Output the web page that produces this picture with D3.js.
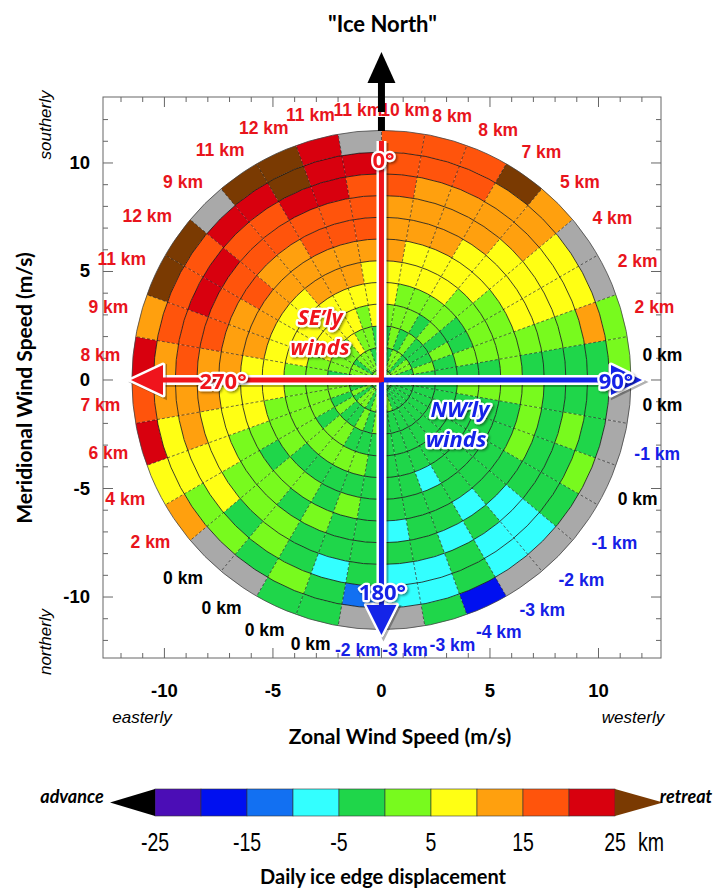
<!DOCTYPE html>
<html><head><meta charset="utf-8">
<script src="https://cdn.jsdelivr.net/npm/d3@7"></script>
<style>body{margin:0;background:#fff}</style>
</head><body>
<svg id="c" width="717" height="889"></svg>
<script>
// ---------------- DATA ----------------
// sector start angles (degrees clockwise from "Ice North"), 10° wide
const sectorAngles = [0,10,20,30,40,50,60,70,80,90,100,110,120,130,140,150,160,170,
                      180,190,200,210,220,230,240,250,260,270,280,290,300,310,320,330,340,350];
// wind-speed ring edges (m/s)
const ringEdges = [0,0.5,1.5,2.5,3.5,4.5,5.5,6.5,7.5,8.5,9.5,10.5,11.5];
// daily ice-edge displacement (km) per cell, rings inner -> outer; null = no data
const neCells = [
  [2,2,-2,2,7,7,12,12,12,17,17,17],
  [2,-2,2,2,2,7,7,12,12,12,17,17],
  [2,2,-2,2,2,7,7,12,12,12,17,17],
  [-2,2,2,-2,2,7,7,7,12,12,12,27],
  [2,-2,-2,2,2,2,7,7,7,12,12,12],
  [2,2,-2,-2,-2,2,2,7,7,7,7,null],
  [-2,2,-2,2,-2,2,2,7,7,7,7,null],
  [2,-2,2,-2,2,2,2,2,2,2,12,2],
  [-2,2,-2,-2,-2,-2,2,-2,-2,-2,-2,2]
];
const seCells = [
  [-2,2,-2,-2,2,2,2,2,-2,-2,-2,null],
  [2,-2,-2,-2,-2,-2,-2,2,-2,2,-2,null],
  [2,-2,-2,-2,-2,-2,-2,2,-2,-2,2,null],
  [-2,-2,-2,-2,-2,-2,-2,-2,-2,-2,-2,null],
  [-2,-2,-2,-2,-2,-2,-2,-2,-7,-7,-7,null],
  [-2,-2,-2,-2,-2,-2,-2,-7,-2,-7,-7,null],
  [-2,-2,-2,-2,-2,-7,-2,-2,-7,-2,-2,-17],
  [-2,2,-2,-2,-2,-2,-2,-2,-2,-7,-7,-2],
  [2,-2,-2,-2,-2,-2,-2,-7,-2,-7,-7,null]
];
const swCells = [
  [2,-2,2,-2,-2,-2,-2,-2,-2,-2,-12,null],
  [-2,2,-2,-2,2,-2,2,-2,-2,-7,-2,-2],
  [2,-2,2,-2,2,-2,-2,2,-2,-2,2,-2],
  [2,2,-2,2,2,-2,2,-2,2,2,-2,null],
  [-2,2,-2,2,2,-2,2,2,2,-2,2,null],
  [2,-2,2,-2,2,2,-2,2,2,7,2,12],
  [2,2,-2,2,2,2,2,2,7,7,7,7],
  [2,-2,2,2,2,2,7,7,7,12,7,22],
  [2,2,2,2,2,7,7,7,12,12,12,17]
];
const nwCells = [
  [2,2,-2,2,2,7,7,12,12,17,12,22],
  [2,2,2,2,7,7,12,12,17,17,17,12],
  [2,2,2,7,7,7,12,12,17,22,17,27],
  [2,-2,2,7,7,7,12,17,17,22,17,27],
  [2,2,2,7,7,7,12,12,17,17,22,null],
  [2,2,7,7,7,12,12,12,17,17,22,27],
  [2,2,2,7,7,12,12,17,17,22,27,27],
  [2,-2,2,2,7,12,12,17,17,22,22,22],
  [2,2,-2,7,7,7,12,17,17,17,22,null]
];
// mean displacement label per sector (km)
const sectorLabels = [10,8,8,7,5,4,2,2,0,0,-1,0,-1,-2,-3,-4,-3,-3,
                      -2,0,0,0,0,2,4,6,7,8,9,11,12,9,11,12,11,11];
const axisTicks = [-10,-5,0,5,10];
const cbThresholds = [-25,-20,-15,-10,-5,0,5,10,15,20,25];
const cbColors = ["#000000","#4b0db6","#0010f0","#1270f2","#33ffff","#1fd64a","#78fa1e","#ffff14","#ffa00e","#ff540c","#d8000e","#7a3a02"];
const cbTickLabels = [-25,-15,-5,5,15,25];

// ---------------- SETUP ----------------
const svg = d3.select('#c');
const x = d3.scaleLinear().domain([-12.83,12.88]).range([103,661]);
const y = d3.scaleLinear().domain([-12.81,13.04]).range([658,97]);
const cx = x(0), cy = y(0);
const unit = x(1) - x(0);
const rScale = d3.scaleLinear().domain([0,11.5]).range([0,11.5*unit]);
const color = d3.scaleThreshold().domain(cbThresholds).range(cbColors);
const rad = d => d*Math.PI/180;
const allSectors = [...neCells, ...seCells, ...swCells, ...nwCells];
const R = rScale(ringEdges[ringEdges.length-1]);

const defs = svg.append('defs');
const sh = defs.append('filter').attr('id','sh').attr('filterUnits','userSpaceOnUse')
  .attr('x',0).attr('y',0).attr('width',717).attr('height',889);
sh.append('feDropShadow').attr('dx',1.5).attr('dy',1.5).attr('stdDeviation',1.2).attr('flood-color','#000').attr('flood-opacity',0.45);

// frame + ticks
svg.append('rect').attr('x',103).attr('y',97).attr('width',558).attr('height',561)
  .attr('fill','none').attr('stroke','#666').attr('stroke-width',1);
const tk = svg.append('g').attr('stroke','#666').attr('stroke-width',1);
d3.range(-12,13).forEach(v=>{
  const L = v%5===0 ? 10 : 5;
  tk.append('line').attr('x1',x(v)).attr('x2',x(v)).attr('y1',658).attr('y2',658-L);
  tk.append('line').attr('x1',x(v)).attr('x2',x(v)).attr('y1',97).attr('y2',97+L);
  tk.append('line').attr('y1',y(v)).attr('y2',y(v)).attr('x1',103).attr('x2',103+L);
  tk.append('line').attr('y1',y(v)).attr('y2',y(v)).attr('x1',661).attr('x2',661-L);
});
const tf = "'Liberation Sans',Arial,sans-serif";
svg.append('g').selectAll('text').data(axisTicks).join('text')
  .attr('x',d=>x(d)).attr('y',697).attr('text-anchor','middle')
  .attr('font-family',tf).attr('font-weight','bold').attr('font-size',18.5).text(d=>d);
svg.append('g').selectAll('text').data(axisTicks).join('text')
  .attr('x',90).attr('y',d=>y(d)+6).attr('text-anchor','end')
  .attr('font-family',tf).attr('font-weight','bold').attr('font-size',18.5).text(d=>d);

// ---------------- POLAR CELLS ----------------
const g = svg.append('g').attr('transform',`translate(${cx},${cy})`);
const arc = d3.arc();
allSectors.forEach((rings,si)=>{
  rings.forEach((v,ri)=>{
    g.append('path').attr('d',arc({innerRadius:rScale(ringEdges[ri]),outerRadius:rScale(ringEdges[ri+1]),
      startAngle:rad(sectorAngles[si]),endAngle:rad(sectorAngles[si]+10)}))
      .attr('fill', v===null ? '#a9a9a9' : color(v));
  });
});
sectorAngles.forEach(a=>{
  g.append('line').attr('x1',0).attr('y1',0)
    .attr('x2',R*Math.sin(rad(a))).attr('y2',-R*Math.cos(rad(a)))
    .attr('stroke','#111').attr('stroke-width',0.6).attr('stroke-dasharray','3,2');
});
ringEdges.slice(1).forEach((e,i)=>{
  g.append('circle').attr('r',rScale(e)).attr('fill','none')
    .attr('stroke', i===ringEdges.length-2 ? '#444' : '#111').attr('stroke-width',0.8);
});

// sector labels
const lg = svg.append('g');
sectorLabels.forEach((v,i)=>{
  const a = rad(sectorAngles[i]+5);
  const t = lg.append('text').attr('font-family',tf).attr('font-weight','bold').attr('font-size',17.5)
    .attr('fill', v>0 ? '#e8141c' : (v<0 ? '#1520e6' : '#000')).attr('text-anchor','middle').text(v+' km');
  const w = t.node().getComputedTextLength()/2;
  const rr = R + 12 + w*Math.abs(Math.sin(a)) + 7*Math.abs(Math.cos(a));
  t.attr('x', cx + rr*Math.sin(a)).attr('y', cy - rr*Math.cos(a) + 6);
});

// ---------------- ARROWS ----------------
const ag = svg.append('g');
const red = '#f0141c', blue = '#1424e8';
function under(x1,y1,x2,y2){
  ag.append('line').attr('x1',x1+2).attr('y1',y1+2).attr('x2',x2+2).attr('y2',y2+2)
    .attr('stroke','#000').attr('stroke-opacity',0.3).attr('stroke-width',10);
  ag.append('line').attr('x1',x1).attr('y1',y1).attr('x2',x2).attr('y2',y2)
    .attr('stroke','#fff').attr('stroke-width',10);
}
function headUnder(pts){
  ag.append('polygon').attr('points',pts.map(p=>[p[0]+2,p[1]+2].join(',')).join(' '))
    .attr('fill','#000').attr('fill-opacity',0.3).attr('stroke','#000').attr('stroke-opacity',0.3).attr('stroke-width',4);
  ag.append('polygon').attr('points',pts.map(p=>p.join(',')).join(' '))
    .attr('fill','#fff').attr('stroke','#fff').attr('stroke-width',5).attr('stroke-linejoin','round');
}
function line(x1,y1,x2,y2,col){
  ag.append('line').attr('x1',x1).attr('y1',y1).attr('x2',x2).attr('y2',y2).attr('stroke',col).attr('stroke-width',5);
}
function head(pts,col){
  ag.append('polygon').attr('points',pts.map(p=>p.join(',')).join(' ')).attr('fill',col);
}
// north (black) arrow
ag.append('line').attr('x1',cx).attr('y1',80).attr('x2',cx).attr('y2',98).attr('stroke','#000').attr('stroke-width',7);
ag.append('line').attr('x1',cx).attr('y1',98).attr('x2',cx).attr('y2',136).attr('stroke','#000').attr('stroke-width',7).attr('stroke-dasharray','14,5');
ag.append('polygon').attr('points',`${cx},52 ${cx-14},83 ${cx+14},83`).attr('fill','#000');
const hL = [[131,cy],[163,cy-15],[163,cy+15]];
const hR = [[642,cy],[611,cy-15],[611,cy+15]];
const hD = [[cx,635],[cx-15,605],[cx+15,605]];
under(cx,cy,cx,141); under(cx,cy,160,cy); under(cx,cy,614,cy); under(cx,cy,cx,607);
headUnder(hL); headUnder(hR); headUnder(hD);
line(cx,cy,614,cy,blue); head(hR,blue);
line(cx,cy,cx,607,blue); head(hD,blue);
line(cx,cy+2,cx,141,red);
line(cx,cy,160,cy,red); head(hL,red);

function outlined(lines,xp,yp,col,size,italic,dy){
  const t = svg.append('text').attr('text-anchor','middle')
    .attr('font-family',"'Open Sans','DejaVu Sans',sans-serif").attr('font-weight','bold')
    .attr('font-style',italic?'italic':'normal').attr('font-size',size)
    .attr('fill',col).attr('stroke','#fff').attr('stroke-width',4.5).attr('paint-order','stroke')
    .attr('stroke-linejoin','round').attr('filter','url(#sh)');
  lines.forEach((s,i)=>{
    t.append('tspan').attr('x',xp[i]).attr('y',yp+i*(dy||0)).text(s);
  });
}
outlined(['0°'],[cx+2],168,red,22,false);
outlined(['270°'],[223],389,red,22,false);
outlined(['90°'],[616],389,blue,22,false);
outlined(['180°'],[cx+1],600,blue,22,false);
outlined(['SE’ly','winds'],[320,320],325,red,21.5,true,30);
outlined(['NW’ly','winds'],[460,456],417,blue,22,true,30);

// ---------------- TITLES ----------------
const cf = "Lato,'Open Sans',sans-serif";
svg.append('text').attr('x',cx+1).attr('y',32).attr('text-anchor','middle').attr('font-family',cf)
  .attr('font-weight','bold').attr('font-size',22).text('"Ice North"');
svg.append('text').attr('x',400).attr('y',744).attr('text-anchor','middle').attr('font-family',cf)
  .attr('font-weight','bold').attr('font-size',21).text('Zonal Wind Speed (m/s)');
svg.append('text').attr('transform','translate(32,388) rotate(-90)').attr('text-anchor','middle').attr('font-family',cf)
  .attr('font-weight','bold').attr('font-size',21).text('Meridional Wind Speed (m/s)');
const itf = "'Liberation Sans',Arial,sans-serif";
svg.append('text').attr('transform','translate(51,125) rotate(-90)').attr('text-anchor','middle').attr('font-family',itf)
  .attr('font-style','italic').attr('font-size',17).text('southerly');
svg.append('text').attr('transform','translate(51,642) rotate(-90)').attr('text-anchor','middle').attr('font-family',itf)
  .attr('font-style','italic').attr('font-size',17).text('northerly');
svg.append('text').attr('x',142).attr('y',723).attr('text-anchor','middle').attr('font-family',itf)
  .attr('font-style','italic').attr('font-size',17).text('easterly');
svg.append('text').attr('x',633).attr('y',723).attr('text-anchor','middle').attr('font-family',itf)
  .attr('font-style','italic').attr('font-size',17).text('westerly');

// ---------------- COLORBAR ----------------
const cbx = d3.scaleLinear().domain([-25,25]).range([155,615]);
const cbY = 789, cbH = 27;
const cb = svg.append('g');
cbThresholds.slice(0,-1).forEach((t,i)=>{
  cb.append('rect').attr('x',cbx(t)).attr('y',cbY).attr('width',cbx(cbThresholds[i+1])-cbx(t)).attr('height',cbH)
    .attr('fill',color(t+0.1)).attr('stroke','#333').attr('stroke-width',0.6);
});
cb.append('polygon').attr('points',`${cbx(-25)},${cbY} 110,${cbY+cbH/2} ${cbx(-25)},${cbY+cbH}`).attr('fill',color(-30));
cb.append('polygon').attr('points',`${cbx(25)},${cbY} 663,${cbY+cbH/2} ${cbx(25)},${cbY+cbH}`).attr('fill',color(30));
const nf = "'Liberation Sans Narrow','Liberation Sans',Arial,sans-serif";
cb.selectAll('text.t').data(cbTickLabels).join('text').attr('class','t')
  .attr('transform',d=>`translate(${cbx(d)},851) scale(0.78,1)`).attr('text-anchor','middle')
  .attr('font-family',nf).attr('font-size',25).text(d=>d);
cb.append('text').attr('transform','translate(651,851) scale(0.78,1)').attr('text-anchor','middle')
  .attr('font-family',nf).attr('font-size',25).text('km');
svg.append('text').attr('x',72).attr('y',803).attr('text-anchor','middle').attr('font-family',cf)
  .attr('font-weight','bold').attr('font-style','italic').attr('font-size',18).text('advance');
svg.append('text').attr('x',686).attr('y',803).attr('text-anchor','middle').attr('font-family',cf)
  .attr('font-weight','bold').attr('font-style','italic').attr('font-size',18).text('retreat');
svg.append('text').attr('x',383).attr('y',884).attr('text-anchor','middle').attr('font-family',cf)
  .attr('font-weight','bold').attr('font-size',20).text('Daily ice edge displacement');
</script>
</body></html>
